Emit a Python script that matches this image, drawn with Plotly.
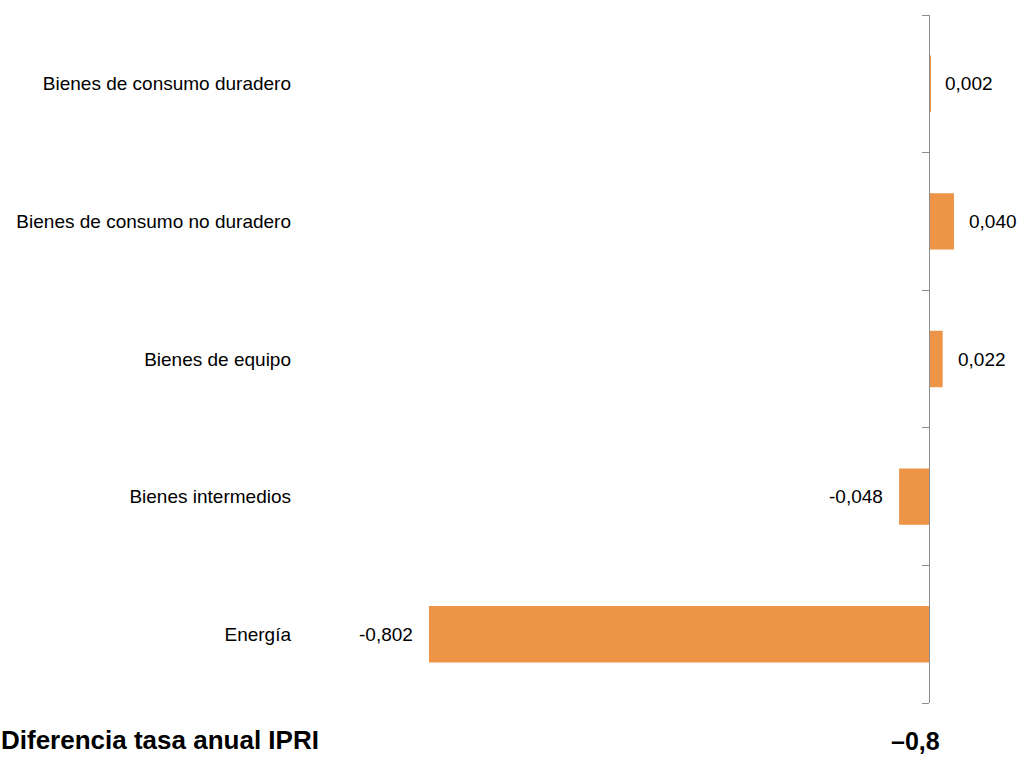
import plotly.graph_objects as go

categories = [
    "Bienes de consumo duradero",
    "Bienes de consumo no duradero",
    "Bienes de equipo",
    "Bienes intermedios",
    "Energía",
]
values = [0.002, 0.040, 0.022, -0.048, -0.802]
value_labels = ["0,002", "0,040", "0,022", "-0,048", "-0,802"]
footer_left = "Diferencia tasa anual IPRI"
footer_right = "–0,8"
boundaries = [-0.5, 0.5, 1.5, 2.5, 3.5, 4.5]

W, H = 1018, 757
ML, MR, MT, MB = 300, 18, 15, 54
PW = W - ML - MR
PH = H - MT - MB
ZERO_PX = 929
SCALE = 623.44  # px per unit
x0 = -(ZERO_PX - ML) / SCALE
x1 = (W - MR - ZERO_PX) / SCALE

BAR_COLOR = "#ED9447"
FONT = "Liberation Sans, Arial, sans-serif"

fig = go.Figure()
fig.add_trace(go.Bar(
    x=values, y=categories, orientation="h",
    marker=dict(color=BAR_COLOR, line=dict(width=0)),
    showlegend=False, hoverinfo="skip",
))
# empty helper trace so the overlaid axis (zero line with boundary ticks) is drawn
fig.add_trace(go.Scatter(
    x=[], y=[], yaxis="y2", mode="markers", showlegend=False, hoverinfo="skip",
))

annotations = []
for c, v, t in zip(categories, values, value_labels):
    annotations.append(dict(
        x=v, y=c, xref="x", yref="y", text=t, showarrow=False,
        xanchor="left" if v >= 0 else "right",
        xshift=13 if v >= 0 else -14,
        font=dict(family=FONT, size=19, color="#000000"),
    ))

foot_y = -(756 - (MT + PH)) / PH
annotations.append(dict(
    x=(0 - ML) / PW, y=foot_y, xref="paper", yref="paper",
    text="<b>" + footer_left + "</b>", showarrow=False,
    xanchor="left", yanchor="bottom", borderpad=0,
    font=dict(family=FONT, size=26, color="#000000"),
))
annotations.append(dict(
    x=(941 - ML) / PW, y=foot_y, xref="paper", yref="paper",
    text="<b>" + footer_right + "</b>", showarrow=False,
    xanchor="right", yanchor="bottom", borderpad=0,
    font=dict(family=FONT, size=25, color="#000000"),
))

fig.update_layout(
    width=W, height=H,
    margin=dict(l=ML, r=MR, t=MT, b=MB, pad=0),
    paper_bgcolor="white", plot_bgcolor="white",
    bargap=0.59,
    font=dict(family=FONT, size=19, color="#000000"),
    xaxis=dict(range=[x0, x1], visible=False, showgrid=False, zeroline=False, fixedrange=True),
    yaxis=dict(
        autorange="reversed", showgrid=False, zeroline=False, showline=False,
        ticks="", ticklabelstandoff=8,
        tickfont=dict(family=FONT, size=19, color="#000000"),
    ),
    yaxis2=dict(
        overlaying="y", anchor="free", position=(ZERO_PX - ML) / PW, side="left",
        range=[4.5, -0.5], tickmode="array", tickvals=boundaries,
        ticks="outside", ticklen=7, tickcolor="#8c8c8c", tickwidth=1,
        showline=True, linecolor="#8c8c8c", linewidth=1,
        showticklabels=False, showgrid=False, zeroline=False,
    ),
    annotations=annotations,
)

fig.write_html("out.html", config={"displayModeBar": False})

# remove the browser's default body margin so the figure sits at the page origin
with open("out.html", "r", encoding="utf-8") as f:
    html = f.read()
html = html.replace("<head>", "<head><style>html,body{margin:0;padding:0;overflow:hidden;}</style>", 1)
with open("out.html", "w", encoding="utf-8") as f:
    f.write(html)
